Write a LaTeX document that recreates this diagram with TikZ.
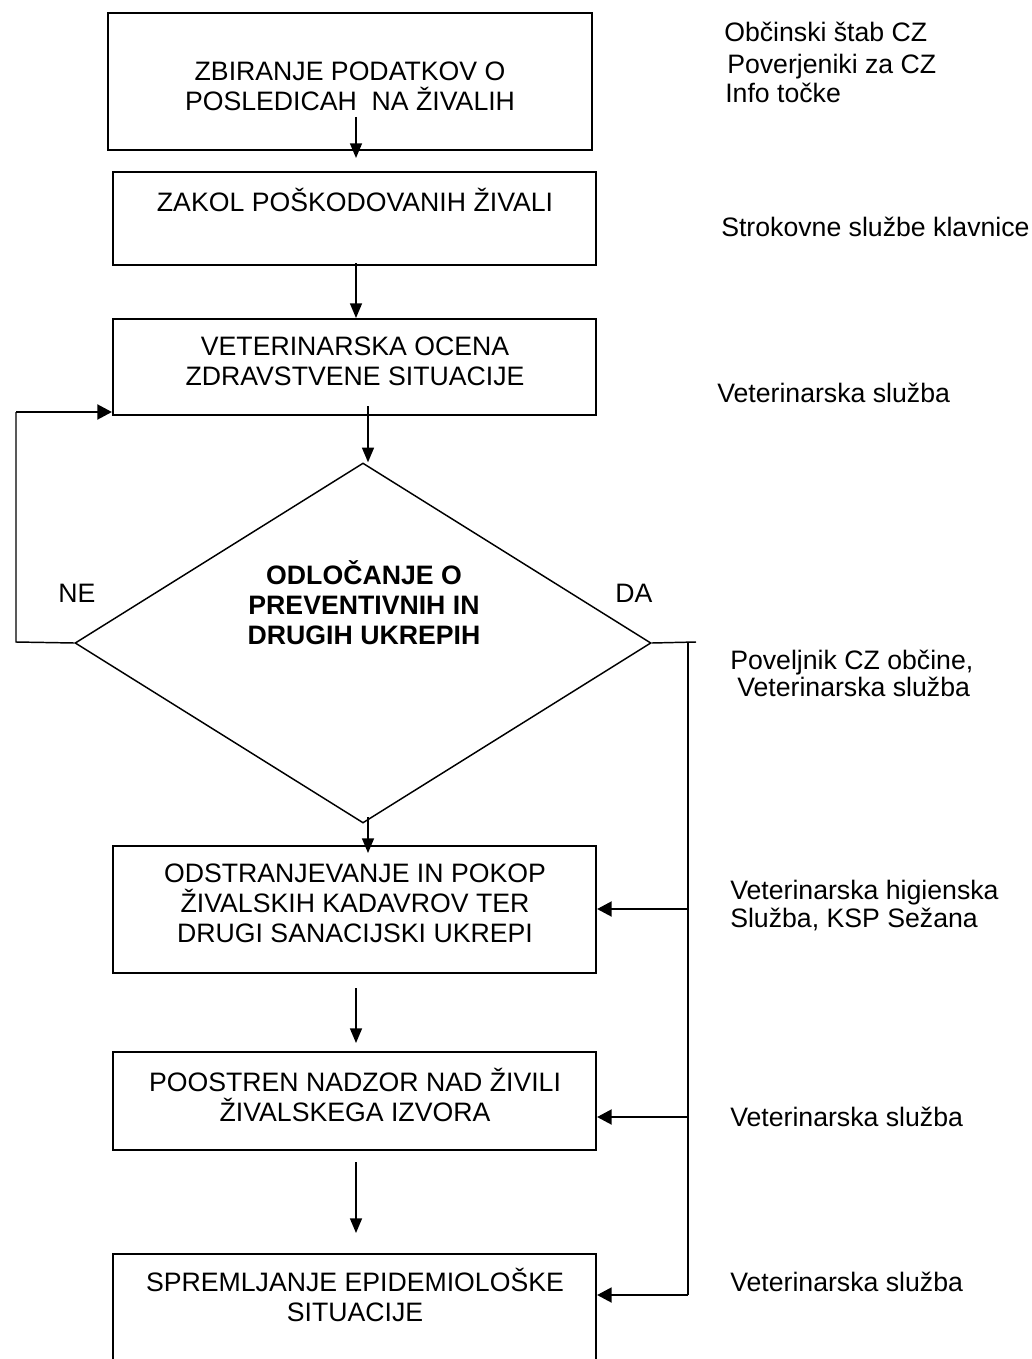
\documentclass[tikz,border=0pt]{standalone}
\usepackage{fontspec}
\setmainfont{Liberation Sans}
\usetikzlibrary{shapes.geometric,arrows.meta,fit}
\begin{document}
\begin{tikzpicture}[x=0.75pt,y=-0.75pt,
  box/.style={draw,line width=1.5pt,inner sep=0pt},
  txt/.style={font=\fontsize{20}{22.5}\selectfont,align=center,inner sep=0pt},
  lab/.style={font=\fontsize{20}{22.5}\selectfont,anchor=base west,inner sep=0pt},
  thinline/.style={line width=1.1pt},
  thinarrow/.style={line width=1.1pt,-{Triangle[length=11pt,width=9pt]}},
  thickarrow/.style={line width=2.2pt,-{Triangle[length=11pt,width=11pt]}}]
\clip (0,0) rectangle (1031,1359);
% boxes
\node[box,fit={(108,13) (592,150)}] (b1) {};
\node[box,fit={(113,172) (596,265)}] (b2) {};
\node[box,fit={(113,319) (596,415)}] (b3) {};
\node[box,fit={(113,846) (596,973)}] (b4) {};
\node[box,fit={(113,1052) (596,1150)}] (b5) {};
\node[box,fit={(113,1254) (596,1400)}] (b6) {};
\node[draw,diamond,line width=1.1pt,inner sep=0pt,minimum width=432pt,minimum height=270pt] (d) at (363,643) {};
% texts
\node[txt] (t1) at (350,86) {ZBIRANJE PODATKOV O\\POSLEDICAH\ \ NA ŽIVALIH};
\node[txt] (t2) at (355,200) {ZAKOL POŠKODOVANIH ŽIVALI};
\node[txt] (t3) at (355,361) {VETERINARSKA OCENA\\ZDRAVSTVENE SITUACIJE};
\node[txt,font=\fontsize{20}{22.5}\selectfont\bfseries] (dt) at (364,603) {ODLOČANJE O\\PREVENTIVNIH IN\\DRUGIH UKREPIH};
\node[txt] (t4) at (355,903) {ODSTRANJEVANJE IN POKOP\\ŽIVALSKIH KADAVROV TER\\DRUGI SANACIJSKI UKREPI};
\node[txt] (t5) at (355,1095) {POOSTREN NADZOR NAD ŽIVILI\\ŽIVALSKEGA IZVORA};
\node[txt] (t6) at (355,1295) {SPREMLJANJE EPIDEMIOLOŠKE\\SITUACIJE};
\node[txt] (ne) at (77,593) {NE};
\node[txt] (da) at (634,593) {DA};
% right labels
\node[lab] (l1) at (724,42) {Občinski štab CZ};
\node[lab] (l2) at (727,74) {Poverjeniki za CZ};
\node[lab] (l3) at (725,103) {Info točke};
\node[lab] (l4) at (721,236) {Strokovne službe klavnice};
\node[lab] (l5) at (717,402) {Veterinarska služba};
\node[lab] (l6) at (730,669) {Poveljnik CZ občine,};
\node[lab] (l7) at (737,696) {Veterinarska služba};
\node[lab] (l8) at (730,899) {Veterinarska higienska};
\node[lab] (l9) at (730,927) {Služba, KSP Sežana};
\node[lab] (l10) at (730,1126) {Veterinarska služba};
\node[lab] (l11) at (730,1291) {Veterinarska služba};
% vertical arrows
\coordinate (a1s) at (356,117); \coordinate (a1e) at (356,158);
\draw[thinarrow] (a1s) -- (a1e);
\coordinate (a2s) at (356,263);
\draw[thinarrow] (a2s) -- (a2s |- b3.north);
\coordinate (a3s) at (368,406);
\draw[thinarrow] (a3s) -- (a3s |- d.north);
\coordinate (a4s) at (368,817); \coordinate (a4e) at (368,853);
\draw[thinarrow] (a4s) -- (a4e);
\coordinate (a5s) at (356,988); \coordinate (a5e) at (356,1043);
\draw[thinarrow] (a5s) -- (a5e);
\coordinate (a6s) at (356,1162); \coordinate (a6e) at (356,1233);
\draw[thinarrow] (a6s) -- (a6e);
% NE loop
\coordinate (nc) at (16,642); \coordinate (nt) at (16,412);
\draw[thinline] (d.west) -- (nc) -- (nt);
\draw[thickarrow] (nt) -- (nt -| b3.west);
% DA branch
\coordinate (dae) at (696,642); \coordinate (vt) at (688,642); \coordinate (vb) at (688,1295);
\draw[thinline] (d.east) -- (dae);
\draw[thinline] (vt) -- (vb);
\coordinate (r1) at (688,909); \coordinate (r2) at (688,1117);
\draw[thickarrow] (r1) -- (r1 -| b4.east);
\draw[thickarrow] (r2) -- (r2 -| b5.east);
\draw[thickarrow] (vb) -- (vb -| b6.east);
\end{tikzpicture}
\end{document}
